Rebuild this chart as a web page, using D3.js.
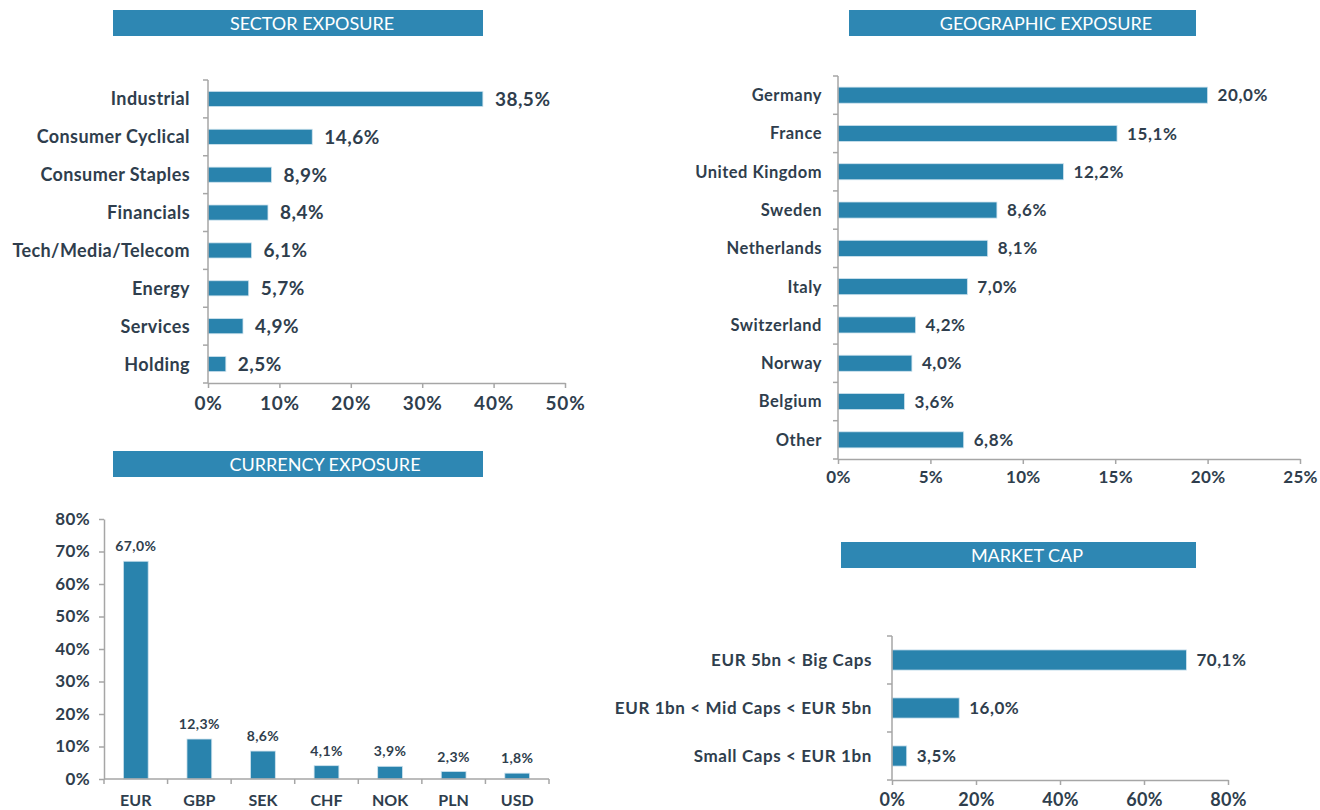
<!DOCTYPE html>
<html>
<head>
<meta charset="utf-8">
<script src="https://cdn.jsdelivr.net/npm/d3@7"></script>
<style>
  html, body { margin: 0; padding: 0; background: #ffffff; }
  svg { display: block; }
  text { font-family: Lato, "Open Sans", sans-serif; }
</style>
</head>
<body>
<svg id="chart" width="1320" height="810"></svg>
<script>
// ---------- DATA ----------
const sectorCategories = ["Industrial", "Consumer Cyclical", "Consumer Staples", "Financials", "Tech/Media/Telecom", "Energy", "Services", "Holding"];
const sectorValues = [38.5, 14.6, 8.9, 8.4, 6.1, 5.7, 4.9, 2.5];
const sectorTicks = [0, 10, 20, 30, 40, 50];

const geoCategories = ["Germany", "France", "United Kingdom", "Sweden", "Netherlands", "Italy", "Switzerland", "Norway", "Belgium", "Other"];
const geoValues = [20.0, 15.1, 12.2, 8.6, 8.1, 7.0, 4.2, 4.0, 3.6, 6.8];
const geoTicks = [0, 5, 10, 15, 20, 25];

const currencyCategories = ["EUR", "GBP", "SEK", "CHF", "NOK", "PLN", "USD"];
const currencyValues = [67.0, 12.3, 8.6, 4.1, 3.9, 2.3, 1.8];
const currencyTicks = [0, 10, 20, 30, 40, 50, 60, 70, 80];

const capCategories = ["EUR 5bn < Big Caps", "EUR 1bn < Mid Caps < EUR 5bn", "Small Caps < EUR 1bn"];
const capValues = [70.1, 16.0, 3.5];
const capTicks = [0, 20, 40, 60, 80];

const titles = ["SECTOR EXPOSURE", "GEOGRAPHIC EXPOSURE", "CURRENCY EXPOSURE", "MARKET CAP"];

// ---------- STYLE ----------
const BAR = "#2983ad";
const HEAD = "#2e87b3";
const TXT = "#2f3e4d";
const AXIS = "#a6a6a6";
const fmt = v => v.toFixed(1).replace(".", ",") + "%";
const svg = d3.select("#chart");

function titleBar(text, x0, x1, y0, y1, tx) {
  svg.append("rect").attr("x", x0).attr("y", y0).attr("width", x1 - x0).attr("height", y1 - y0).attr("fill", HEAD);
  svg.append("text").attr("x", tx).attr("y", (y0 + y1) / 2 + 6.5)
    .attr("text-anchor", "middle").attr("fill", "#ffffff")
    .style("font-size", "18px").style("font-weight", "400")
    .text(text);
}

function hbar(cfg) {
  const g = svg.append("g");
  const x = d3.scaleLinear().domain([cfg.ticks[0], cfg.ticks[cfg.ticks.length - 1]]).range([cfg.x0, cfg.x1]);
  const y = d3.scaleBand().domain(cfg.cats).range([cfg.y0, cfg.y1]).paddingInner(0).paddingOuter(0);
  const bh = y.bandwidth() * cfg.barFrac;

  g.selectAll("rect.bar").data(cfg.vals).enter().append("rect")
    .attr("x", x(0))
    .attr("y", (d, i) => y(cfg.cats[i]) + (y.bandwidth() - bh) / 2)
    .attr("width", d => x(d) - x(0))
    .attr("height", bh)
    .attr("fill", BAR).attr("stroke", "#cfe3ee").attr("stroke-width", 0.8);

  g.selectAll("text.val").data(cfg.vals).enter().append("text")
    .attr("x", d => x(d) + cfg.valGap)
    .attr("y", (d, i) => y(cfg.cats[i]) + y.bandwidth() / 2)
    .attr("dy", "0.36em")
    .attr("fill", TXT).style("font-size", cfg.valSize + "px").style("font-weight", "700")
    .style("letter-spacing", cfg.valLs + "px")
    .text(d => fmt(d));

  g.selectAll("text.cat").data(cfg.cats).enter().append("text")
    .attr("x", x(0) - cfg.catGap)
    .attr("y", d => y(d) + y.bandwidth() / 2)
    .attr("dy", "0.36em").attr("text-anchor", "end")
    .attr("fill", TXT).style("font-size", cfg.catSize + "px").style("font-weight", "700")
    .style("letter-spacing", cfg.catLs + "px")
    .text(d => d);

  g.append("line").attr("x1", x(0)).attr("x2", x(0)).attr("y1", cfg.y0).attr("y2", cfg.y1)
    .attr("stroke", AXIS).attr("stroke-width", 1.5);
  const bounds = cfg.cats.map(c => y(c)).concat([cfg.y1]);
  g.selectAll("line.yt").data(bounds).enter().append("line")
    .attr("x1", x(0) - 5).attr("x2", x(0)).attr("y1", d => d).attr("y2", d => d)
    .attr("stroke", AXIS).attr("stroke-width", 1.5);

  const ax = g.append("g").attr("transform", `translate(0,${cfg.y1})`)
    .call(d3.axisBottom(x).tickValues(cfg.ticks).tickSize(5).tickSizeOuter(0).tickFormat(d => d + "%"));
  ax.select(".domain").attr("stroke", AXIS).attr("stroke-width", 1.5);
  ax.selectAll(".tick line").attr("stroke", AXIS).attr("stroke-width", 1.5);
  ax.selectAll(".tick text").attr("fill", TXT).attr("y", cfg.tickDy)
    .style("font-size", cfg.tickSize + "px").style("font-weight", "700").style("font-family", "Lato, sans-serif")
    .style("letter-spacing", cfg.tickLs + "px");
}

// ---------- SECTOR ----------
titleBar(titles[0], 113, 483, 10, 36, 312);
hbar({ cats: sectorCategories, vals: sectorValues, ticks: sectorTicks,
  x0: 208, x1: 565, y0: 80, y1: 383, barFrac: 0.4, valGap: 12, valSize: 19, valLs: 0.5,
  catGap: 18, catSize: 18, catLs: 0.4, tickSize: 19, tickLs: 0.8, tickDy: 14 });

// ---------- GEOGRAPHIC ----------
titleBar(titles[1], 849, 1196, 10, 36, 1046);
hbar({ cats: geoCategories, vals: geoValues, ticks: geoTicks,
  x0: 838, x1: 1300, y0: 76, y1: 459, barFrac: 0.42, valGap: 10, valSize: 17, valLs: 0.6,
  catGap: 16, catSize: 16.5, catLs: 0.5, tickSize: 17, tickLs: 0.3, tickDy: 12 });

// ---------- MARKET CAP ----------
titleBar(titles[3], 841, 1196, 542, 568, 1027);
hbar({ cats: capCategories, vals: capValues, ticks: capTicks,
  x0: 892, x1: 1228, y0: 636, y1: 780, barFrac: 0.42, valGap: 10, valSize: 17, valLs: 0.5,
  catGap: 20, catSize: 17, catLs: 0.6, tickSize: 18, tickLs: 0.3, tickDy: 13 });

// ---------- CURRENCY ----------
titleBar(titles[2], 113, 483, 451, 477, 325);
(function () {
  const g = svg.append("g");
  const x = d3.scaleBand().domain(currencyCategories).range([104, 549]).paddingInner(0).paddingOuter(0);
  const y = d3.scaleLinear().domain([0, 80]).range([779, 519]);
  const bw = x.bandwidth() * 0.39;

  g.selectAll("rect.bar").data(currencyValues).enter().append("rect")
    .attr("x", (d, i) => x(currencyCategories[i]) + (x.bandwidth() - bw) / 2)
    .attr("y", d => y(d))
    .attr("width", bw)
    .attr("height", d => y(0) - y(d))
    .attr("fill", BAR).attr("stroke", "#cfe3ee").attr("stroke-width", 0.8);

  g.selectAll("text.val").data(currencyValues).enter().append("text")
    .attr("x", (d, i) => x(currencyCategories[i]) + x.bandwidth() / 2)
    .attr("y", d => y(d) - 10)
    .attr("text-anchor", "middle")
    .attr("fill", TXT).style("font-size", "14px").style("font-weight", "700").style("letter-spacing", "0.4px")
    .text(d => fmt(d));

  const ay = g.append("g").attr("transform", "translate(104,0)")
    .call(d3.axisLeft(y).tickValues(currencyTicks).tickSize(5).tickSizeOuter(0).tickFormat(d => d + "%"));
  ay.select(".domain").attr("stroke", AXIS).attr("stroke-width", 1.5);
  ay.selectAll(".tick line").attr("stroke", AXIS).attr("stroke-width", 1.5);
  ay.selectAll(".tick text").attr("fill", TXT).attr("x", -14)
    .style("font-size", "17px").style("font-weight", "700").style("font-family", "Lato, sans-serif")
    .style("letter-spacing", "0.4px");

  g.append("line").attr("x1", 104).attr("x2", 549).attr("y1", 779).attr("y2", 779)
    .attr("stroke", AXIS).attr("stroke-width", 1.5);
  const bounds = currencyCategories.map(c => x(c)).concat([549]);
  g.selectAll("line.xt").data(bounds).enter().append("line")
    .attr("x1", d => d).attr("x2", d => d).attr("y1", 779).attr("y2", 784)
    .attr("stroke", AXIS).attr("stroke-width", 1.5);

  g.selectAll("text.cat").data(currencyCategories).enter().append("text")
    .attr("x", d => x(d) + x.bandwidth() / 2)
    .attr("y", 806)
    .attr("text-anchor", "middle")
    .attr("fill", TXT).style("font-size", "16px").style("font-weight", "700")
    .text(d => d);
})();
</script>
</body>
</html>
